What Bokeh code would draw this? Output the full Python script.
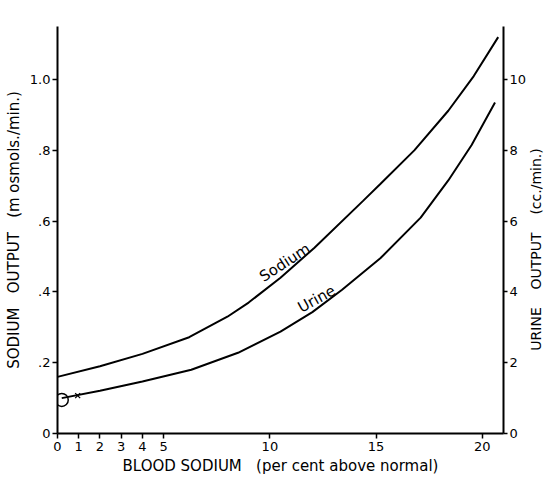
from bokeh.plotting import figure
from bokeh.layouts import row
from bokeh.models import Range1d, LinearAxis, FixedTicker, Label
from bokeh.embed import file_html
from bokeh.resources import INLINE

# Sodium output curve (m osmols./min.) vs blood sodium (% above normal)
sodium_x = [0, 2, 4, 6.2, 8, 9, 10.5, 12.1, 14.4, 15.2, 16.8, 18.4, 19.6, 20.75]
sodium_y = [0.16, 0.19, 0.225, 0.272, 0.33, 0.37, 0.44, 0.525, 0.658, 0.705, 0.80, 0.912, 1.01, 1.12]

# Urine output curve (read on left scale; right scale = 10x, cc./min.)
urine_x = [0.2, 2, 4, 6.3, 8.5, 10.5, 12, 13.4, 15.2, 17.1, 18.4, 19.5, 20.6]
urine_y = [0.10, 0.121, 0.147, 0.18, 0.228, 0.288, 0.343, 0.406, 0.495, 0.61, 0.715, 0.815, 0.935]

# control points at zero
circle_pt = (0.2, 0.095)
cross_pt = (0.95, 0.107)

x_ticks = [0, 1, 2, 3, 4, 5, 10, 15, 20]
x_tick_labels = ["0", "1", "2", "3", "4", "5", "10", "15", "20"]
left_ticks = [0, 0.2, 0.4, 0.6, 0.8, 1.0]
left_tick_labels = ["0", ".2", ".4", ".6", ".8", "1.0"]
right_ticks = [0, 2, 4, 6, 8, 10]
right_tick_labels = ["0", "2", "4", "6", "8", "10"]

FONT = "DejaVu Sans"
SP = "\u00a0\u00a0\u00a0"
SP4 = "\u00a0\u00a0\u00a0\u00a0"
Y_MAX = 1.15

p = figure(width=525, height=478, output_backend="svg", toolbar_location=None,
           x_range=Range1d(0, 21), y_range=Range1d(0, Y_MAX),
           frame_width=446, frame_height=407,
           min_border_left=57, min_border_top=26, min_border_right=22, min_border_bottom=45)
p.outline_line_color = None
p.xgrid.visible = False
p.ygrid.visible = False
p.background_fill_color = "white"

p.line(sodium_x, sodium_y, line_color="black", line_width=2)
p.line(urine_x, urine_y, line_color="black", line_width=2)
p.scatter([circle_pt[0]], [circle_pt[1]], marker="circle", size=13,
          fill_color=None, line_color="black", line_width=1.5)
p.scatter([cross_pt[0]], [cross_pt[1]], marker="x", size=7,
          line_color="black", line_width=1.3)

def style(ax):
    ax.axis_line_color = "black"
    ax.axis_line_width = 2
    ax.major_tick_line_color = "black"
    ax.major_tick_line_width = 1.5
    ax.major_tick_out = 5
    ax.major_tick_in = 0
    ax.minor_tick_line_color = None
    ax.major_label_text_font = FONT
    ax.major_label_text_font_size = "13px"
    ax.major_label_text_color = "black"
    ax.axis_label_text_font = FONT
    ax.axis_label_text_font_size = "15px"
    ax.axis_label_text_font_style = "normal"
    ax.axis_label_text_color = "black"

xa = p.xaxis[0]
style(xa)
xa.ticker = FixedTicker(ticks=x_ticks)
xa.major_label_overrides = {t: l for t, l in zip(x_ticks, x_tick_labels)}
xa.axis_label = "BLOOD SODIUM" + SP + "(per cent above normal)"
xa.axis_label_standoff = 3
xa.major_label_standoff = 3

ya = p.yaxis[0]
style(ya)
ya.ticker = FixedTicker(ticks=left_ticks)
ya.major_label_overrides = {t: l for t, l in zip(left_ticks, left_tick_labels)}
ya.axis_label = "SODIUM" + SP + "OUTPUT" + SP + "(m osmols./min.)"
ya.axis_label_standoff = 4
ya.major_label_standoff = 2

p.extra_y_ranges = {"urine": Range1d(0, Y_MAX * 10)}
ra = LinearAxis(y_range_name="urine")
style(ra)
ra.major_tick_out = 4
ra.ticker = FixedTicker(ticks=right_ticks)
ra.major_label_overrides = {t: l for t, l in zip(right_ticks, right_tick_labels)}
ra.major_label_standoff = 2
p.add_layout(ra, "right")

p.add_layout(Label(x=10.7, y=0.483, text="Sodium", angle=33, angle_units="deg",
                   text_font=FONT, text_font_size="15px", text_color="black",
                   text_align="center", text_baseline="middle"))
p.add_layout(Label(x=12.2, y=0.38, text="Urine", angle=29, angle_units="deg",
                   text_font=FONT, text_font_size="15px", text_color="black",
                   text_align="center", text_baseline="middle"))

# narrow strip holding the right-hand axis title, reading bottom to top
p2 = figure(width=15, height=478, output_backend="svg", toolbar_location=None,
            x_range=Range1d(0, 1), y_range=Range1d(0, Y_MAX),
            frame_height=407, frame_width=15,
            min_border_left=0, min_border_right=0, min_border_top=26, min_border_bottom=45)
p2.axis.visible = False
p2.xgrid.visible = False
p2.ygrid.visible = False
p2.outline_line_color = None
p2.add_layout(Label(x=0.5, y=0.52, x_offset=-1, text="URINE" + SP4 + "OUTPUT" + SP4 + "(cc./min.)",
                    angle=90, angle_units="deg", text_font=FONT, text_font_size="14px",
                    text_color="black", text_align="center", text_baseline="middle"))

open("out.html", "w").write(file_html(row(p, p2), INLINE))
